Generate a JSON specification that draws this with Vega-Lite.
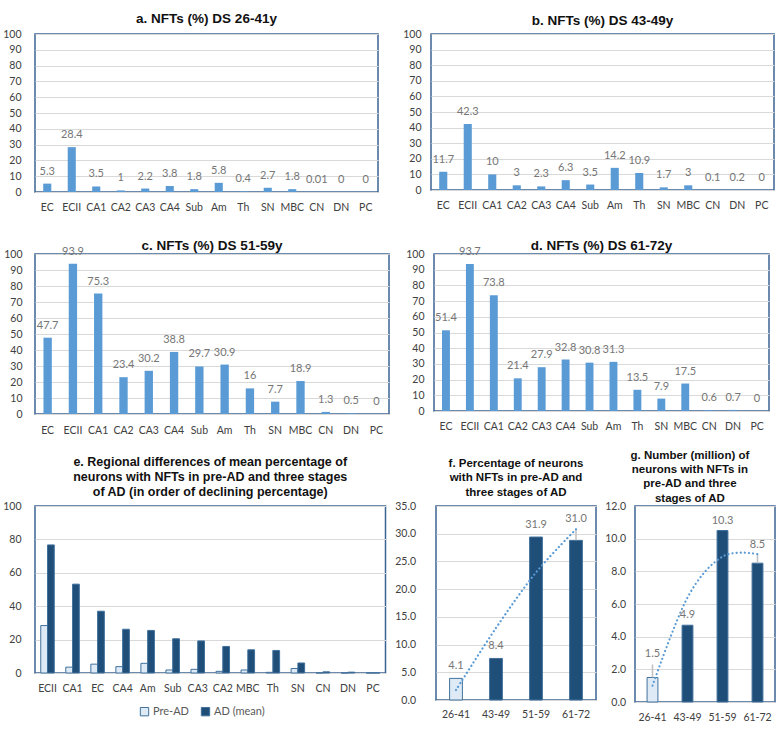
{
  "$schema": "https://vega.github.io/schema/vega-lite/v6.json",
  "padding": {"left": 1, "top": 10, "right": 3, "bottom": 0},
  "datasets": {
    "nfts": [
      {"panel": "a", "region": "EC", "v": 5.3, "lab": "5.3"},
      {"panel": "a", "region": "ECII", "v": 28.4, "lab": "28.4"},
      {"panel": "a", "region": "CA1", "v": 3.5, "lab": "3.5"},
      {"panel": "a", "region": "CA2", "v": 1, "lab": "1"},
      {"panel": "a", "region": "CA3", "v": 2.2, "lab": "2.2"},
      {"panel": "a", "region": "CA4", "v": 3.8, "lab": "3.8"},
      {"panel": "a", "region": "Sub", "v": 1.8, "lab": "1.8"},
      {"panel": "a", "region": "Am", "v": 5.8, "lab": "5.8"},
      {"panel": "a", "region": "Th", "v": 0.4, "lab": "0.4"},
      {"panel": "a", "region": "SN", "v": 2.7, "lab": "2.7"},
      {"panel": "a", "region": "MBC", "v": 1.8, "lab": "1.8"},
      {"panel": "a", "region": "CN", "v": 0.01, "lab": "0.01"},
      {"panel": "a", "region": "DN", "v": 0, "lab": "0"},
      {"panel": "a", "region": "PC", "v": 0, "lab": "0"},
      {"panel": "b", "region": "EC", "v": 11.7, "lab": "11.7"},
      {"panel": "b", "region": "ECII", "v": 42.3, "lab": "42.3"},
      {"panel": "b", "region": "CA1", "v": 10, "lab": "10"},
      {"panel": "b", "region": "CA2", "v": 3, "lab": "3"},
      {"panel": "b", "region": "CA3", "v": 2.3, "lab": "2.3"},
      {"panel": "b", "region": "CA4", "v": 6.3, "lab": "6.3"},
      {"panel": "b", "region": "Sub", "v": 3.5, "lab": "3.5"},
      {"panel": "b", "region": "Am", "v": 14.2, "lab": "14.2"},
      {"panel": "b", "region": "Th", "v": 10.9, "lab": "10.9"},
      {"panel": "b", "region": "SN", "v": 1.7, "lab": "1.7"},
      {"panel": "b", "region": "MBC", "v": 3, "lab": "3"},
      {"panel": "b", "region": "CN", "v": 0.1, "lab": "0.1"},
      {"panel": "b", "region": "DN", "v": 0.2, "lab": "0.2"},
      {"panel": "b", "region": "PC", "v": 0, "lab": "0"},
      {"panel": "c", "region": "EC", "v": 47.7, "lab": "47.7"},
      {"panel": "c", "region": "ECII", "v": 93.9, "lab": "93.9"},
      {"panel": "c", "region": "CA1", "v": 75.3, "lab": "75.3"},
      {"panel": "c", "region": "CA2", "v": 23.0, "lab": "23.4"},
      {"panel": "c", "region": "CA3", "v": 27.0, "lab": "30.2"},
      {"panel": "c", "region": "CA4", "v": 38.8, "lab": "38.8"},
      {"panel": "c", "region": "Sub", "v": 29.7, "lab": "29.7"},
      {"panel": "c", "region": "Am", "v": 30.9, "lab": "30.9"},
      {"panel": "c", "region": "Th", "v": 16, "lab": "16"},
      {"panel": "c", "region": "SN", "v": 7.7, "lab": "7.7"},
      {"panel": "c", "region": "MBC", "v": 20.6, "lab": "18.9"},
      {"panel": "c", "region": "CN", "v": 1.3, "lab": "1.3"},
      {"panel": "c", "region": "DN", "v": 0.5, "lab": "0.5"},
      {"panel": "c", "region": "PC", "v": 0, "lab": "0"},
      {"panel": "d", "region": "EC", "v": 51.4, "lab": "51.4"},
      {"panel": "d", "region": "ECII", "v": 93.7, "lab": "93.7"},
      {"panel": "d", "region": "CA1", "v": 73.8, "lab": "73.8"},
      {"panel": "d", "region": "CA2", "v": 20.8, "lab": "21.4"},
      {"panel": "d", "region": "CA3", "v": 27.9, "lab": "27.9"},
      {"panel": "d", "region": "CA4", "v": 32.8, "lab": "32.8"},
      {"panel": "d", "region": "Sub", "v": 30.8, "lab": "30.8"},
      {"panel": "d", "region": "Am", "v": 31.3, "lab": "31.3"},
      {"panel": "d", "region": "Th", "v": 13.5, "lab": "13.5"},
      {"panel": "d", "region": "SN", "v": 7.9, "lab": "7.9"},
      {"panel": "d", "region": "MBC", "v": 17.5, "lab": "17.5"},
      {"panel": "d", "region": "CN", "v": 0.6, "lab": "0.6"},
      {"panel": "d", "region": "DN", "v": 0.7, "lab": "0.7"},
      {"panel": "d", "region": "PC", "v": 0, "lab": "0"}
    ],
    "regional": [
      {"region": "ECII", "group": "Pre-AD", "v": 28.4},
      {"region": "ECII", "group": "AD (mean)", "v": 76.7},
      {"region": "CA1", "group": "Pre-AD", "v": 3.5},
      {"region": "CA1", "group": "AD (mean)", "v": 53.2},
      {"region": "EC", "group": "Pre-AD", "v": 5.3},
      {"region": "EC", "group": "AD (mean)", "v": 37.0},
      {"region": "CA4", "group": "Pre-AD", "v": 3.8},
      {"region": "CA4", "group": "AD (mean)", "v": 26.2},
      {"region": "Am", "group": "Pre-AD", "v": 5.8},
      {"region": "Am", "group": "AD (mean)", "v": 25.5},
      {"region": "Sub", "group": "Pre-AD", "v": 1.8},
      {"region": "Sub", "group": "AD (mean)", "v": 20.5},
      {"region": "CA3", "group": "Pre-AD", "v": 2.2},
      {"region": "CA3", "group": "AD (mean)", "v": 19.2},
      {"region": "CA2", "group": "Pre-AD", "v": 1},
      {"region": "CA2", "group": "AD (mean)", "v": 15.9},
      {"region": "MBC", "group": "Pre-AD", "v": 1.8},
      {"region": "MBC", "group": "AD (mean)", "v": 13.9},
      {"region": "Th", "group": "Pre-AD", "v": 0.4},
      {"region": "Th", "group": "AD (mean)", "v": 13.5},
      {"region": "SN", "group": "Pre-AD", "v": 2.7},
      {"region": "SN", "group": "AD (mean)", "v": 6.0},
      {"region": "CN", "group": "Pre-AD", "v": 0.01},
      {"region": "CN", "group": "AD (mean)", "v": 0.7},
      {"region": "DN", "group": "Pre-AD", "v": 0},
      {"region": "DN", "group": "AD (mean)", "v": 0.5},
      {"region": "PC", "group": "Pre-AD", "v": 0},
      {"region": "PC", "group": "AD (mean)", "v": 0}
    ],
    "pctAge": [
      {"age": "26-41", "group": "Pre-AD", "v": 3.9, "lab": "4.1", "trend": 1.8, "lead": null},
      {"age": "43-49", "group": "AD (mean)", "v": 7.5, "lab": "8.4", "trend": 13.0, "lead": null},
      {"age": "51-59", "group": "AD (mean)", "v": 29.4, "lab": "31.9", "trend": 23.0, "lead": null},
      {"age": "61-72", "group": "AD (mean)", "v": 28.8, "lab": "31.0", "trend": 30.8, "lead": 30.8}
    ],
    "numAge": [
      {"age": "26-41", "group": "Pre-AD", "v": 1.5, "lab": "1.5", "trend": 1.0, "lead": 2.3},
      {"age": "43-49", "group": "AD (mean)", "v": 4.7, "lab": "4.9", "trend": 6.4, "lead": null},
      {"age": "51-59", "group": "AD (mean)", "v": 10.5, "lab": "10.3", "trend": 8.9, "lead": null},
      {"age": "61-72", "group": "AD (mean)", "v": 8.5, "lab": "8.5", "trend": 9.05, "lead": 9.0}
    ]
  },
  "vconcat": [
    {
      "vconcat": [
        {
          "hconcat": [
            {
              "width": 343, "height": 158,
              "title": {"text": "a. NFTs (%)  DS 26-41y", "fontSize": 13.5, "offset": 4},
              "data": {"name": "nfts"},
              "transform": [{"filter": "datum.panel == 'a'"}],
              "encoding": {
                "x": {"field": "region", "type": "nominal", "sort": null, "title": null,
                      "scale": {"paddingInner": 0.67, "paddingOuter": 0.335}, "axis": {"labelPadding": 10}},
                "y": {"field": "v", "type": "quantitative", "title": null,
                      "scale": {"domain": [0, 100], "nice": false},
                      "axis": {"values": [0, 10, 20, 30, 40, 50, 60, 70, 80, 90, 100], "labelPadding": 14}}
              },
              "layer": [
                {"mark": {"type": "bar", "color": "#5B9BD5"}},
                {"mark": {"type": "text", "baseline": "middle", "dy": -12}, "encoding": {"text": {"field": "lab"}}}
              ]
            },
            {
              "width": 343, "height": 156,
              "title": {"text": "b. NFTs (%)  DS 43-49y", "fontSize": 13.5, "offset": 2},
              "data": {"name": "nfts"},
              "transform": [{"filter": "datum.panel == 'b'"}],
              "encoding": {
                "x": {"field": "region", "type": "nominal", "sort": null, "title": null,
                      "scale": {"paddingInner": 0.67, "paddingOuter": 0.335}, "axis": {"labelPadding": 10}},
                "y": {"field": "v", "type": "quantitative", "title": null,
                      "scale": {"domain": [0, 100], "nice": false},
                      "axis": {"values": [0, 10, 20, 30, 40, 50, 60, 70, 80, 90, 100], "labelPadding": 10}}
              },
              "layer": [
                {"mark": {"type": "bar", "color": "#5B9BD5"}},
                {"mark": {"type": "text", "baseline": "middle", "dy": -12}, "encoding": {"text": {"field": "lab"}}}
              ]
            }
          ],
          "spacing": 22
        },
        {
          "hconcat": [
            {
              "width": 354, "height": 160,
              "title": {"text": "c. NFTs (%) DS 51-59y", "fontSize": 13.5, "offset": -6.25},
              "data": {"name": "nfts"},
              "transform": [{"filter": "datum.panel == 'c'"}],
              "encoding": {
                "x": {"field": "region", "type": "nominal", "sort": null, "title": null,
                      "scale": {"paddingInner": 0.67, "paddingOuter": 0.335}, "axis": {"labelPadding": 11.5}},
                "y": {"field": "v", "type": "quantitative", "title": null,
                      "scale": {"domain": [0, 100], "nice": false},
                      "axis": {"values": [0, 10, 20, 30, 40, 50, 60, 70, 80, 90, 100], "labelPadding": 13}}
              },
              "layer": [
                {"mark": {"type": "bar", "color": "#5B9BD5"}},
                {"mark": {"type": "text", "baseline": "middle", "dy": -12}, "encoding": {"text": {"field": "lab"}}}
              ]
            },
            {
              "width": 335, "height": 157,
              "title": {"text": "d. NFTs (%) DS 61-72y", "fontSize": 13.5, "offset": -6.25},
              "data": {"name": "nfts"},
              "transform": [{"filter": "datum.panel == 'd'"}],
              "encoding": {
                "x": {"field": "region", "type": "nominal", "sort": null, "title": null,
                      "scale": {"paddingInner": 0.67, "paddingOuter": 0.335}, "axis": {"labelPadding": 10.5}},
                "y": {"field": "v", "type": "quantitative", "title": null,
                      "scale": {"domain": [0, 100], "nice": false},
                      "axis": {"values": [0, 10, 20, 30, 40, 50, 60, 70, 80, 90, 100], "labelPadding": 10}}
              },
              "layer": [
                {"mark": {"type": "bar", "color": "#5B9BD5"}},
                {"mark": {"type": "text", "baseline": "middle", "dy": -12}, "encoding": {"text": {"field": "lab"}}}
              ]
            }
          ],
          "spacing": 14
        }
      ],
      "spacing": 23
    },
    {
      "hconcat": [
        {
          "width": 350.5, "height": 167,
          "title": {"text": ["e. Regional differences of mean percentage of", "neurons with NFTs in pre-AD and three stages", "of AD (in order of declining percentage)"], "fontSize": 12.5, "lineHeight": 15, "offset": 3},
          "data": {"name": "regional"},
          "mark": {"type": "bar", "stroke": "#41719C", "strokeWidth": 1},
          "encoding": {
            "x": {"field": "region", "type": "nominal", "sort": null, "title": null,
                  "scale": {"paddingInner": 0.46, "paddingOuter": 0.23}, "axis": {"labelPadding": 10.75}},
            "xOffset": {"field": "group", "type": "nominal", "sort": ["Pre-AD", "AD (mean)"], "scale": {"paddingInner": 0, "paddingOuter": 0}},
            "y": {"field": "v", "type": "quantitative", "title": null,
                  "scale": {"domain": [0, 100], "nice": false},
                  "axis": {"values": [0, 20, 40, 60, 80, 100], "labelPadding": 14}},
            "color": {"field": "group", "type": "nominal", "sort": ["Pre-AD", "AD (mean)"],
                      "scale": {"domain": ["Pre-AD", "AD (mean)"], "range": ["#DEEBF7", "#1F4E79"]},
                      "legend": {"title": null, "orient": "none", "legendX": 104, "legendY": 200, "direction": "horizontal", "symbolType": "square", "symbolSize": 70, "symbolStrokeColor": "#41719C", "symbolStrokeWidth": 1, "labelFont": "Lato", "labelFontSize": 11, "labelColor": "#595959", "padding": 0, "columnPadding": 10, "labelOffset": 3}}
          }
        },
        {
          "width": 160, "height": 194,
          "title": {"text": ["f. Percentage of neurons", "with NFTs in pre-AD and", "three stages of AD"], "fontSize": 11.5, "lineHeight": 14.7, "offset": 2.5},
          "data": {"name": "pctAge"},
          "encoding": {
            "x": {"field": "age", "type": "nominal", "sort": null, "title": null,
                  "scale": {"paddingInner": 0.68, "paddingOuter": 0.34}, "axis": {"labelPadding": 9.75}}
          },
          "layer": [
            {
              "mark": {"type": "bar", "stroke": "#41719C", "strokeWidth": 1},
              "encoding": {
                "y": {"field": "v", "type": "quantitative", "title": null, "scale": {"domain": [0, 35], "nice": false},
                      "axis": {"values": [0, 5, 10, 15, 20, 25, 30, 35], "format": ".1f", "labelPadding": 20.5}},
                "color": {"field": "group", "type": "nominal", "scale": {"domain": ["Pre-AD", "AD (mean)"], "range": ["#DEEBF7", "#1F4E79"]}, "legend": null}
              }
            },
            {
              "transform": [{"filter": "isValid(datum.lead)"}],
              "mark": {"type": "rule", "color": "#BFBFBF", "strokeWidth": 1.5},
              "encoding": {
                "y": {"field": "v", "type": "quantitative", "title": null, "scale": {"domain": [0, 35], "nice": false},
                      "axis": {"values": [0, 5, 10, 15, 20, 25, 30, 35], "format": ".1f", "labelPadding": 20.5}},
                "y2": {"field": "lead"}
              }
            },
            {
              "mark": {"type": "line", "color": "#5B9BD5", "strokeWidth": 2.2, "strokeCap": "round", "strokeDash": [0.1, 4], "interpolate": "cardinal"},
              "encoding": {
                "y": {"field": "trend", "type": "quantitative", "title": null, "scale": {"domain": [0, 35], "nice": false},
                      "axis": {"values": [0, 5, 10, 15, 20, 25, 30, 35], "format": ".1f", "labelPadding": 20.5}}
              }
            },
            {
              "transform": [{"filter": "!isValid(datum.lead)"}],
              "mark": {"type": "text", "baseline": "middle", "dy": -12},
              "encoding": {
                "y": {"field": "v", "type": "quantitative", "title": null, "scale": {"domain": [0, 35], "nice": false},
                      "axis": {"values": [0, 5, 10, 15, 20, 25, 30, 35], "format": ".1f", "labelPadding": 20.5}},
                "text": {"field": "lab"}
              }
            },
            {
              "transform": [{"filter": "isValid(datum.lead)"}],
              "mark": {"type": "text", "baseline": "middle", "dy": -10},
              "encoding": {
                "y": {"field": "lead", "type": "quantitative", "title": null, "scale": {"domain": [0, 35], "nice": false},
                      "axis": {"values": [0, 5, 10, 15, 20, 25, 30, 35], "format": ".1f", "labelPadding": 20.5}},
                "text": {"field": "lab"}
              }
            }
          ]
        },
        {
          "width": 140, "height": 196,
          "title": {"text": ["g. Number (million) of", "neurons with NFTs in", "pre-AD and three", "stages of AD"], "fontSize": 11.5, "lineHeight": 14.4, "offset": -3.25, "frame": "bounds"},
          "data": {"name": "numAge"},
          "encoding": {
            "x": {"field": "age", "type": "nominal", "sort": null, "title": null,
                  "scale": {"paddingInner": 0.69, "paddingOuter": 0.345}, "axis": {"labelPadding": 10.75}}
          },
          "layer": [
            {
              "mark": {"type": "bar", "stroke": "#41719C", "strokeWidth": 1},
              "encoding": {
                "y": {"field": "v", "type": "quantitative", "title": null, "scale": {"domain": [0, 12], "nice": false},
                      "axis": {"values": [0, 2, 4, 6, 8, 10, 12], "format": ".1f", "labelPadding": 9.5}},
                "color": {"field": "group", "type": "nominal", "scale": {"domain": ["Pre-AD", "AD (mean)"], "range": ["#DEEBF7", "#1F4E79"]}, "legend": null}
              }
            },
            {
              "transform": [{"filter": "isValid(datum.lead)"}],
              "mark": {"type": "rule", "color": "#BFBFBF", "strokeWidth": 1.5},
              "encoding": {
                "y": {"field": "v", "type": "quantitative", "title": null, "scale": {"domain": [0, 12], "nice": false},
                      "axis": {"values": [0, 2, 4, 6, 8, 10, 12], "format": ".1f", "labelPadding": 9.5}},
                "y2": {"field": "lead"}
              }
            },
            {
              "mark": {"type": "line", "color": "#5B9BD5", "strokeWidth": 2.2, "strokeCap": "round", "strokeDash": [0.1, 4], "interpolate": "cardinal"},
              "encoding": {
                "y": {"field": "trend", "type": "quantitative", "title": null, "scale": {"domain": [0, 12], "nice": false},
                      "axis": {"values": [0, 2, 4, 6, 8, 10, 12], "format": ".1f", "labelPadding": 9.5}}
              }
            },
            {
              "transform": [{"filter": "!isValid(datum.lead)"}],
              "mark": {"type": "text", "baseline": "middle", "dy": -10},
              "encoding": {
                "y": {"field": "v", "type": "quantitative", "title": null, "scale": {"domain": [0, 12], "nice": false},
                      "axis": {"values": [0, 2, 4, 6, 8, 10, 12], "format": ".1f", "labelPadding": 9.5}},
                "text": {"field": "lab"}
              }
            },
            {
              "transform": [{"filter": "isValid(datum.lead)"}],
              "mark": {"type": "text", "baseline": "middle", "dy": -10},
              "encoding": {
                "y": {"field": "lead", "type": "quantitative", "title": null, "scale": {"domain": [0, 12], "nice": false},
                      "axis": {"values": [0, 2, 4, 6, 8, 10, 12], "format": ".1f", "labelPadding": 9.5}},
                "text": {"field": "lab"}
              }
            }
          ]
        }
      ],
      "spacing": 7,
      "resolve": {"scale": {"color": "independent"}, "legend": {"color": "independent"}}
    }
  ],
  "spacing": 11,
  "resolve": {"scale": {"color": "independent"}, "legend": {"color": "independent"}},
  "config": {
    "font": "Lato",
    "background": "#ffffff",
    "view": {"stroke": "#3B6494", "strokeWidth": 1.5},
    "axis": {"labelFont": "Lato", "labelFontSize": 10.5, "labelColor": "#404040", "ticks": false, "gridColor": "#D9D9D9", "gridWidth": 1, "domainColor": "#D9D9D9"},
    "axisY": {"domain": false, "grid": true},
    "axisX": {"domain": true, "grid": false, "labelAngle": 0},
    "title": {"font": "Liberation Sans", "fontWeight": "bold", "color": "#111111", "anchor": "middle", "frame": "group"},
    "text": {"font": "Lato", "fontSize": 11, "color": "#767676"}
  }
}
